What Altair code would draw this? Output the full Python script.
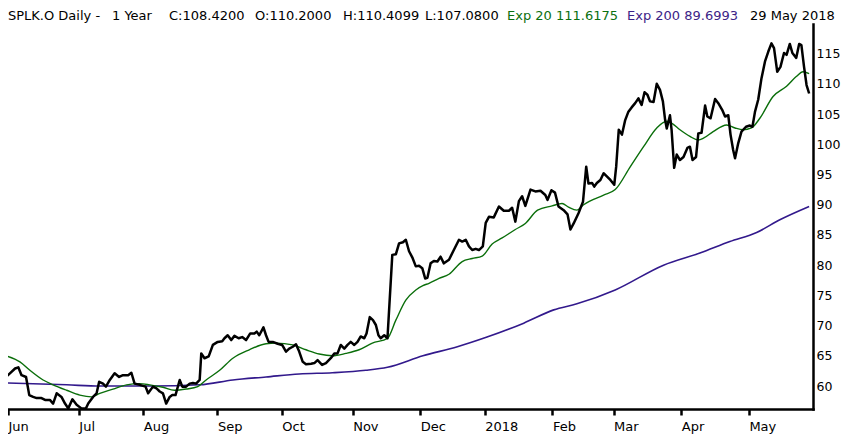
import altair as alt
import pandas as pd

# ---- data (x = trading-session number, 1 = 1 Jun 2017) ----
close_day = [0.4, 3.2, 4.2, 5.2, 6.6, 7.6, 8.8, 9.9, 11.4, 12.5, 14.0, 15.0, 16.1, 17.6, 18.7, 19.7,
             21.0, 22.3, 23.8, 25.2, 25.9, 27.4, 28.5, 29.3, 30.5, 31.4, 32.6, 34.1, 35.5, 36.7, 38.3,
             39.3, 40.3, 41.9, 43.7, 44.5, 46.0, 47.1, 48.1, 49.1, 50.1, 51.2, 52.0, 53.0, 54.3, 55.1,
             56.3, 57.4, 58.4, 59.4, 60.5, 61.0, 62.0, 63.3, 64.6, 66.1, 67.5, 68.2, 69.2, 70.3, 71.3,
             72.6, 73.7, 74.9, 76.2, 77.5, 78.2, 79.0, 80.3, 81.1, 81.9, 83.2, 84.7, 86.1, 87.3, 88.3,
             89.4, 90.4, 91.4, 92.5, 93.5, 95.1, 96.1, 97.1, 98.5, 99.7, 101.2, 102.3, 103.3, 104.3,
             105.4, 106.4, 107.4, 108.5, 109.5, 110.5, 111.6, 112.3, 113.3, 114.3, 115.2, 116.0, 116.7,
             117.8, 118.8, 120.3, 121.4, 122.4, 123.6, 124.5, 125.5, 126.5, 127.6, 128.6, 129.6, 130.5,
             131.2, 132.2, 133.2, 134.3, 135.3, 136.3, 137.9, 139.4, 141.0, 142.0, 143.1, 144.1, 145.1,
             146.2, 147.2, 148.4, 149.3, 150.3, 151.8, 153.4, 154.9, 156.5, 157.5, 158.5, 159.6, 160.6,
             161.6, 163.2, 164.7, 166.3, 167.8, 168.5, 169.7, 170.8, 171.9, 173.5, 174.7, 175.6, 176.6,
             178.1, 179.5, 180.5, 181.2, 182.3, 183.0, 183.8, 184.9, 185.9, 186.9, 188.0, 189.2, 189.8,
             190.6, 191.6, 192.6, 193.6, 194.6, 195.7, 196.7, 197.7, 198.6, 199.5, 200.3, 201.4, 202.4,
             203.4, 204.3, 205.0, 205.5, 206.5, 207.0, 207.8, 208.6, 209.6, 210.7, 211.9, 212.7, 213.5,
             214.6, 215.3, 216.3, 217.4, 218.1, 219.1, 220.5, 221.5, 222.7, 223.6, 224.6, 225.3, 226.1,
             226.7, 227.7, 228.7, 230.1, 231.3, 232.1, 232.9, 233.9, 234.9, 236.0, 237.0, 238.0, 238.8,
             239.8, 240.8, 241.9, 242.7, 243.7, 244.5, 245.7, 246.6, 247.3, 248.1, 248.9, 249.7]
close_val = [61.5, 62.9, 63.1, 61.8, 61.5, 58.5, 58.2, 58.0, 58.0, 57.7, 57.7, 57.1, 58.8, 58.2, 57.1, 56.3,
             57.8, 56.9, 56.3, 56.3, 57.1, 58.2, 58.8, 60.7, 60.4, 59.9, 61.0, 62.1, 61.5, 61.8, 61.8,
             62.2, 60.4, 60.2, 59.9, 58.8, 59.9, 59.6, 59.1, 58.8, 57.1, 58.2, 58.5, 58.5, 61.0, 59.9,
             59.9, 60.4, 60.5, 60.4, 61.0, 65.4, 64.6, 64.9, 66.8, 67.3, 67.4, 67.9, 68.4, 67.6, 68.3,
             67.9, 68.1, 67.6, 68.7, 68.7, 69.0, 68.4, 69.7, 68.4, 67.3, 67.3, 67.0, 66.8, 65.7, 66.2,
             66.5, 66.9, 65.7, 64.0, 63.6, 63.7, 63.8, 64.3, 63.5, 63.8, 64.6, 65.4, 65.4, 66.8,
             66.2, 66.8, 67.3, 66.8, 67.3, 68.2, 67.9, 68.7, 71.4, 70.9, 70.1, 68.4, 67.9,
             68.4, 67.9, 81.7, 81.8, 83.6, 83.8, 84.2, 82.3, 81.3, 79.8, 79.9, 79.5, 77.8,
             77.9, 80.3, 80.7, 80.6, 81.4, 80.3, 80.9, 82.5, 84.2, 83.9, 84.2, 83.1, 82.5,
             82.7, 82.5, 83.1, 87.0, 88.0, 87.9, 89.7, 89.0, 89.0, 89.5, 87.2, 90.6, 91.4,
             89.8, 92.5, 92.2, 92.3, 91.6, 90.8, 92.4, 92.0, 89.7, 89.1, 88.4, 85.9, 86.9,
             88.6, 90.5, 96.3, 93.5, 93.6, 93.0, 93.6, 94.1, 95.2, 94.7, 94.1, 93.3, 96.3,
             102.4, 101.6, 104.0, 105.4, 106.1, 106.8, 107.6, 106.5, 108.6, 108.2, 107.1, 107.0, 110.0,
             109.0, 107.1, 104.0, 102.6, 104.8, 102.4, 96.1, 98.3, 97.4, 97.9, 99.4, 99.6, 97.4,
             97.9, 101.8, 101.9, 106.4, 104.6, 104.3, 107.5, 106.8, 105.7, 104.6, 104.8, 101.6, 99.1,
             97.7, 100.2, 102.1, 102.9, 103.1, 102.9, 105.4, 107.4, 110.9, 113.7, 115.3, 116.7, 115.9,
             112.0, 112.8, 115.1, 114.8, 116.6, 115.1, 114.3, 116.6, 116.4, 112.9, 109.8, 108.4]

ema20_day = [0.4, 4.7, 7.8, 11.9, 15.0, 19.2, 23.3, 26.9, 29.5, 33.6, 37.8, 41.9, 45.0, 49.1, 52.7,
             56.3, 59.9, 62.5, 66.7, 70.8, 75.9, 81.1, 84.2, 89.4, 93.5, 97.6, 101.7, 105.9, 110.0,
             114.1, 118.8, 121.4, 124.5, 127.6, 129.8, 131.7, 134.8, 137.9, 142.0, 145.1, 148.2,
             151.3, 154.4, 158.5, 161.6, 165.4, 169.9, 173.0, 175.0, 177.6, 179.7, 185.9, 189.5,
             194.2, 198.3, 202.4, 205.5, 207.0, 209.6, 212.7, 215.3, 216.9, 219.9, 224.1, 226.7,
             229.2, 231.8, 234.4, 238.5, 242.7, 245.7, 247.8, 249.7]
ema20_val = [65.0, 64.0, 62.6, 61.0, 60.2, 59.3, 58.5, 58.2, 58.8, 59.5, 60.2, 60.4, 60.2, 59.8, 59.3,
             59.5, 59.9, 61.0, 62.6, 64.6, 66.0, 67.0, 67.1, 66.8, 66.0, 65.3, 65.0, 65.4, 66.0,
             67.1, 67.9, 70.9, 74.2, 75.9, 76.6, 77.0, 77.8, 78.5, 80.6, 81.1, 81.5,
             83.5, 84.5, 85.9, 86.9, 89.1, 89.8, 90.2, 89.6, 89.1, 90.0, 91.6, 92.5,
             96.3, 99.6, 102.7, 103.8, 103.5, 102.4, 101.3, 100.7, 101.0, 102.1, 103.2, 102.7,
             102.4, 102.7, 104.3, 107.9, 109.6, 111.2, 112.0, 111.7]

ema200_day = [0.4, 19.2, 29.5, 45.0, 60.5, 70.8, 81.1, 91.4, 101.7, 112.1, 118.8, 129.8, 140.5,
              149.7, 161.1, 170.4, 177.6, 189.5, 204.5, 215.8, 225.1, 233.4, 240.6, 249.7]
ema200_val = [60.5, 60.2, 60.0, 60.0, 60.2, 61.0, 61.5, 62.0, 62.2, 62.6, 63.1, 65.0, 66.5,
              68.1, 70.4, 72.6, 73.6, 75.9, 80.0, 82.0, 83.9, 85.4, 87.5, 89.7]

month_day = [1, 23, 43, 66, 86, 108, 129, 149, 170, 189, 210, 231]
month_label = ["Jun", "Jul", "Aug", "Sep", "Oct", "Nov", "Dec", "2018", "Feb", "Mar", "Apr", "May"]
price_ticks = [60, 65, 70, 75, 80, 85, 90, 95, 100, 105, 110, 115]

header_parts = ["SPLK.O Daily -", "1 Year", "C:108.4200", "O:110.2000", "H:110.4099", "L:107.0800",
                "Exp 20 111.6175", "Exp 200 89.6993", "29 May 2018"]

# ---- styling / layout ----
FONT = "DejaVu Sans"
BLACK = "#000000"
GREEN = "#0a6e0a"
PURPLE = "#32198c"
header_x = [0, 104, 161, 247, 335, 417, 499, 619, 742]
header_color = [BLACK, BLACK, BLACK, BLACK, BLACK, BLACK, "#0a7010", "#3c2387", BLACK]

label_expr = " : ".join(f"datum.value == {d} ? '{l}'" for d, l in zip(month_day, month_label)) + " : ''"

x_scale = alt.Scale(domain=[1.0, 250.9], nice=False, zero=False)
y_scale = alt.Scale(domain=[56.2, 119.9], nice=False, zero=False)

x_axis = alt.Axis(values=month_day, labelExpr=label_expr, title="", grid=False,
                  ticks=True, tickSize=6, tickWidth=2.5, tickColor=BLACK,
                  labelAlign="left", labelPadding=5, labelFlush=False, labelOverlap=False,
                  labelBound=False, labelFontSize=13, domainColor=BLACK, domainWidth=2.5)
y_axis = alt.Axis(values=price_ticks, orient="right", title="", grid=False, ticks=False,
                  labelPadding=3, labelAlign="left", labelBaseline="middle", labelFontSize=12.5,
                  labelFlush=False, labelOverlap=False, domainColor=BLACK, domainWidth=2.5)


def series_layer(days, vals, color, width, interp):
    df = pd.DataFrame({"day": days, "price": vals})
    return alt.Chart(df).mark_line(color=color, strokeWidth=width, clip=True,
                                   strokeJoin="round", interpolate=interp).encode(
        x=alt.X("day:Q", scale=x_scale, axis=x_axis),
        y=alt.Y("price:Q", scale=y_scale, axis=y_axis),
    )


layers = [
    series_layer(ema200_day, ema200_val, PURPLE, 1.6, "monotone"),
    series_layer(ema20_day, ema20_val, GREEN, 1.4, "monotone"),
    series_layer(close_day, close_val, BLACK, 2.5, "linear"),
]

for txt, hx, col in zip(header_parts, header_x, header_color):
    layers.append(
        alt.Chart(alt.Data(values=[{}])).mark_text(
            text=txt, align="left", baseline="alphabetic", font=FONT, fontSize=13, color=col
        ).encode(x=alt.value(hx), y=alt.value(-4.5))
    )

chart = alt.layer(*layers).properties(
    width=805, height=385,
    padding={"left": 0, "top": 16, "right": 29, "bottom": 25},
    autosize=alt.AutoSizeParams(type="none"),
    background="white",
).configure_view(stroke=None).configure_axis(
    labelFont=FONT, labelColor=BLACK, domainCap="square"
)

chart.save("out.html", embed_options={"renderer": "svg", "actions": False})
